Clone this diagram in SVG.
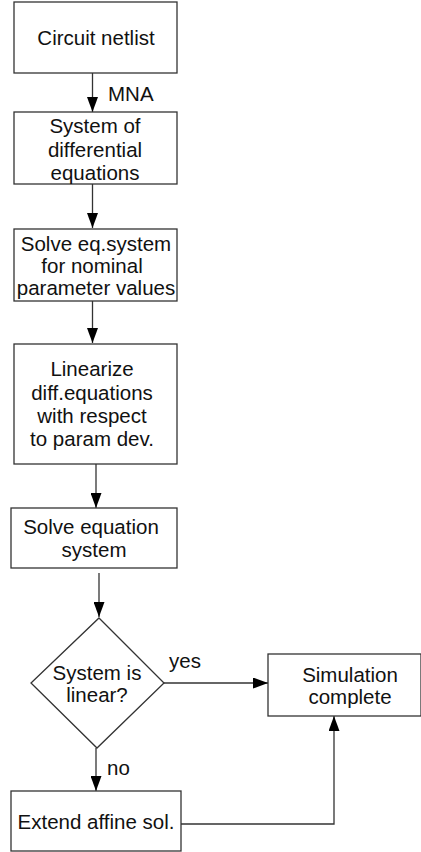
<svg xmlns="http://www.w3.org/2000/svg" width="421" height="852" viewBox="0 0 421 852">
  <style>
    .box { fill: #ffffff; stroke: #333333; stroke-width: 1.3; }
    .lbl { font-family: "Liberation Sans", Arial, sans-serif; font-size: 20.5px; fill: #111111; text-anchor: middle; }
    .edge { fill: none; stroke: #333333; stroke-width: 1.3; }
    .elbl { font-family: "Liberation Sans", Arial, sans-serif; font-size: 20.5px; fill: #111111; }
  </style>
  <defs>
    <marker id="arrow" markerWidth="15" markerHeight="11" refX="10" refY="5" orient="auto" markerUnits="userSpaceOnUse" viewBox="0 0 10 10" preserveAspectRatio="none">
      <path d="M0,0 L10,5 L0,10 Z" fill="#000000"/>
    </marker>
  </defs>
  <rect width="421" height="852" fill="#ffffff"/>

  <g id="connectors">
    <line class="edge" x1="92.5" y1="73" x2="92.5" y2="112" marker-end="url(#arrow)"/>
    <line class="edge" x1="92.5" y1="184" x2="92.5" y2="228" marker-end="url(#arrow)"/>
    <line class="edge" x1="92.5" y1="301" x2="92.5" y2="343" marker-end="url(#arrow)"/>
    <line class="edge" x1="96" y1="464" x2="96" y2="508" marker-end="url(#arrow)"/>
    <line class="edge" x1="99" y1="573" x2="99" y2="617" marker-end="url(#arrow)"/>
    <line class="edge" x1="164" y1="683" x2="268" y2="683" marker-end="url(#arrow)"/>
    <line class="edge" x1="96" y1="748" x2="96" y2="791" marker-end="url(#arrow)"/>
    <polyline class="edge" points="181,824 334,824 334,716" marker-end="url(#arrow)"/>
    <text class="elbl" x="108" y="101">MNA</text>
    <text class="elbl" x="169" y="668">yes</text>
    <text class="elbl" x="107" y="775">no</text>
  </g>

  <g id="netlist">
    <rect class="box" x="14" y="2" width="163" height="71"/>
    <text class="lbl" x="96" y="45">Circuit netlist</text>
  </g>

  <g id="diffeq">
    <rect class="box" x="14" y="112" width="163" height="72"/>
    <text class="lbl" x="95" y="133">System of</text>
    <text class="lbl" x="95" y="157">differential</text>
    <text class="lbl" x="95" y="180">equations</text>
  </g>

  <g id="nominal">
    <rect class="box" x="14" y="229" width="163" height="72"/>
    <text class="lbl" x="96" y="251">Solve eq.system</text>
    <text class="lbl" x="92" y="273">for nominal</text>
    <text class="lbl" x="96" y="295">parameter values</text>
  </g>

  <g id="linearize">
    <rect class="box" x="14" y="344" width="163" height="120"/>
    <text class="lbl" x="92" y="376">Linearize</text>
    <text class="lbl" x="92" y="400">diff.equations</text>
    <text class="lbl" x="92" y="423">with respect</text>
    <text class="lbl" x="92" y="446">to param dev.</text>
  </g>

  <g id="solve">
    <rect class="box" x="11" y="508" width="166" height="60"/>
    <text class="lbl" x="91" y="534">Solve equation</text>
    <text class="lbl" x="94" y="557">system</text>
  </g>

  <g id="decision">
    <polygon class="box" points="99,618 164,683 97,748 31,683"/>
    <text class="lbl" x="97" y="680">System is</text>
    <text class="lbl" x="97" y="702">linear?</text>
  </g>

  <g id="complete">
    <rect class="box" x="268" y="654" width="153" height="62"/>
    <text class="lbl" x="350" y="682">Simulation</text>
    <text class="lbl" x="350" y="704">complete</text>
  </g>

  <g id="extend">
    <rect class="box" x="11" y="791" width="170" height="60"/>
    <text class="lbl" x="96" y="829">Extend affine sol.</text>
  </g>
</svg>
